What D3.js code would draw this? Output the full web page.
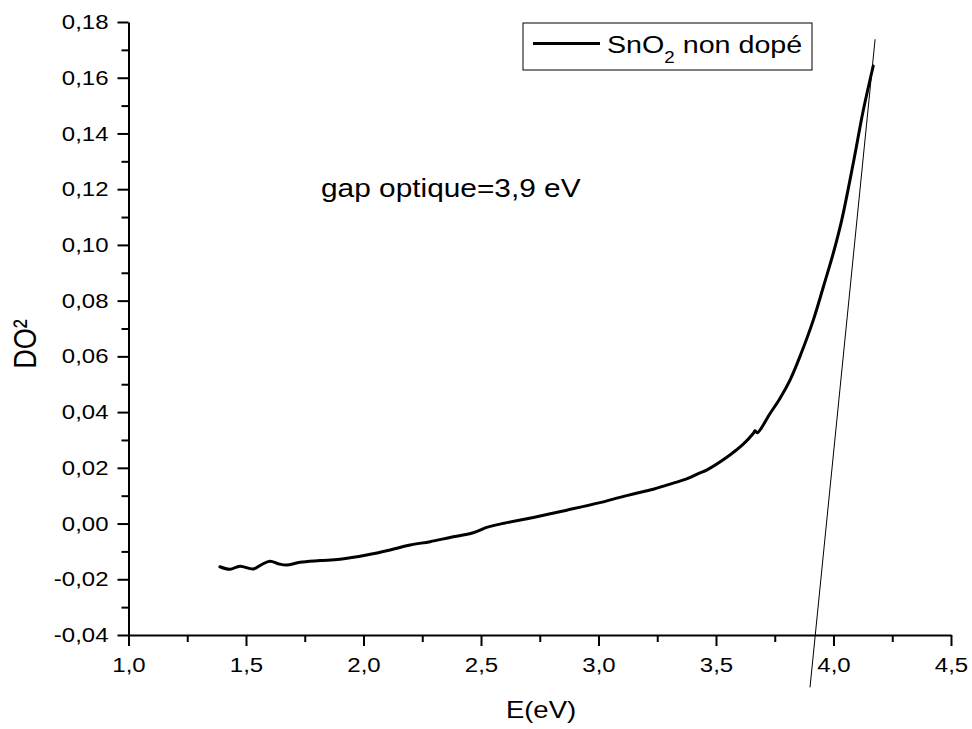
<!DOCTYPE html>
<html>
<head>
<meta charset="utf-8">
<script src="https://cdn.jsdelivr.net/npm/d3@7"></script>
<style>
  html, body { margin: 0; padding: 0; background: #fff; }
  svg { display: block; }
  text { font-family: "Liberation Sans", Arial, sans-serif; fill: #000; }
</style>
</head>
<body>
<svg id="chart" width="972" height="729"></svg>
<script>
// ---- data ----
const energy = [1.389, 1.432, 1.474, 1.531, 1.565, 1.602, 1.640, 1.673, 1.730, 1.815, 1.900,
  2.013, 2.113, 2.198, 2.283, 2.368, 2.467, 2.524, 2.581, 2.723, 2.865, 3.006, 3.091, 3.148,
  3.233, 3.290, 3.375, 3.432, 3.460, 3.546, 3.616, 3.659, 3.666, 3.676, 3.730, 3.772, 3.815,
  3.857, 3.914, 3.957, 3.999, 4.035, 4.084, 4.127, 4.169];
const do2 = [-0.0155, -0.0164, -0.0153, -0.0163, -0.0148, -0.0135, -0.0145, -0.0149, -0.0139, -0.0133, -0.0128,
  -0.0113, -0.0095, -0.0077, -0.0065, -0.0050, -0.0033, -0.0014, -0.0002, 0.0022, 0.0048, 0.0075, 0.0094, 0.0106,
  0.0123, 0.0138, 0.0160, 0.0182, 0.0192, 0.0238, 0.0285, 0.0324, 0.0333, 0.0326, 0.0395, 0.0449, 0.0515,
  0.0599, 0.0730, 0.0850, 0.0970, 0.1089, 0.1293, 0.1484, 0.1642];
const tangentE = [3.900, 4.177];
const tangentDO2 = [-0.0588, 0.1738];
const xTicks = [1.0, 1.5, 2.0, 2.5, 3.0, 3.5, 4.0, 4.5];
const yTicks = [-0.04, -0.02, 0.00, 0.02, 0.04, 0.06, 0.08, 0.10, 0.12, 0.14, 0.16, 0.18];
const xMinor = [1.25, 1.75, 2.25, 2.75, 3.25, 3.75, 4.25];
const yMinor = [-0.03, -0.01, 0.01, 0.03, 0.05, 0.07, 0.09, 0.11, 0.13, 0.15, 0.17];
const seriesName = "SnO";
const seriesSub = "2";
const seriesRest = " non dopé";
const annotation = "gap optique=3,9 eV";
const xTitle = "E(eV)";
const yTitle = "DO²";

// ---- layout ----
const S = 1.17; // horizontal text stretch
const svg = d3.select("#chart");
const x = d3.scaleLinear().domain([1.0, 4.5]).range([128.5, 951]);
const y = d3.scaleLinear().domain([-0.04, 0.18]).range([635, 22]);
const loc = d3.formatLocale({decimal: ",", thousands: ".", grouping: [3], currency: ["", ""], minus: "-"});
const fx = loc.format(".1f"), fy = loc.format(".2f");

// minor ticks
svg.append("g").attr("transform", `translate(0,${y(-0.04)})`)
  .call(d3.axisBottom(x).tickValues(xMinor).tickSize(7).tickFormat(""))
  .call(g => g.select(".domain").remove())
  .call(g => g.selectAll("line").attr("stroke-width", 2));
svg.append("g").attr("transform", `translate(${x(1.0)},0)`)
  .call(d3.axisLeft(y).tickValues(yMinor).tickSize(7).tickFormat(""))
  .call(g => g.select(".domain").remove())
  .call(g => g.selectAll("line").attr("stroke-width", 2));

// major axes
const gx = svg.append("g").attr("transform", `translate(0,${y(-0.04)})`)
  .call(d3.axisBottom(x).tickValues(xTicks).tickSize(11).tickSizeOuter(0).tickPadding(11).tickFormat(fx));
gx.select(".domain").attr("stroke-width", 2);
gx.selectAll("line").attr("stroke-width", 2);
gx.selectAll("text").attr("font-size", 20.5).attr("font-family", null)
  .attr("transform", `scale(${S},1)`);

const gy = svg.append("g").attr("transform", `translate(${x(1.0)},0)`)
  .call(d3.axisLeft(y).tickValues(yTicks).tickSize(11).tickSizeOuter(0).tickPadding(9).tickFormat(fy));
gy.select(".domain").attr("stroke-width", 2);
gy.selectAll("line").attr("stroke-width", 2);
gy.selectAll("text").attr("font-size", 20.5).attr("font-family", null)
  .attr("x", -20 / S).attr("transform", `scale(${S},1)`);

// data curve
const pts = energy.map((e, i) => [e, do2[i]]);
svg.append("path").datum(pts)
  .attr("fill", "none").attr("stroke", "#000").attr("stroke-width", 3)
  .attr("stroke-linejoin", "round").attr("stroke-linecap", "round")
  .attr("d", d3.line().curve(d3.curveCatmullRom.alpha(0.5)).x(d => x(d[0])).y(d => y(d[1])));

// tangent line
const tpts = tangentE.map((e, i) => [e, tangentDO2[i]]);
svg.append("path").datum(tpts)
  .attr("fill", "none").attr("stroke", "#000").attr("stroke-width", 1)
  .attr("d", d3.line().x(d => x(d[0])).y(d => y(d[1])));

// annotation
svg.append("g").attr("transform", `translate(321,197) scale(${S},1)`)
  .append("text").attr("font-size", 25.5).text(annotation);

// axis titles
svg.append("g").attr("transform", `translate(541,718) scale(${S},1)`)
  .append("text").attr("font-size", 23.5).attr("text-anchor", "middle").text(xTitle);
svg.append("g").attr("transform", `translate(36,344) scale(${S},1) rotate(-90)`)
  .append("text").attr("font-size", 27).attr("text-anchor", "middle").text(yTitle);

// legend
const lg = svg.append("g");
lg.append("rect").attr("x", 523).attr("y", 23).attr("width", 289).attr("height", 47)
  .attr("fill", "#fff").attr("stroke", "#000").attr("stroke-width", 1);
lg.append("line").attr("x1", 533).attr("x2", 600).attr("y1", 43.5).attr("y2", 43.5)
  .attr("stroke", "#000").attr("stroke-width", 3);
const lt = lg.append("g").attr("transform", `translate(607,53) scale(${S},1)`)
  .append("text").attr("font-size", 24.5);
lt.append("tspan").text(seriesName);
lt.append("tspan").attr("font-size", 16).attr("dy", 10).text(seriesSub);
lt.append("tspan").attr("dy", -10).text(seriesRest);
</script>
</body>
</html>
